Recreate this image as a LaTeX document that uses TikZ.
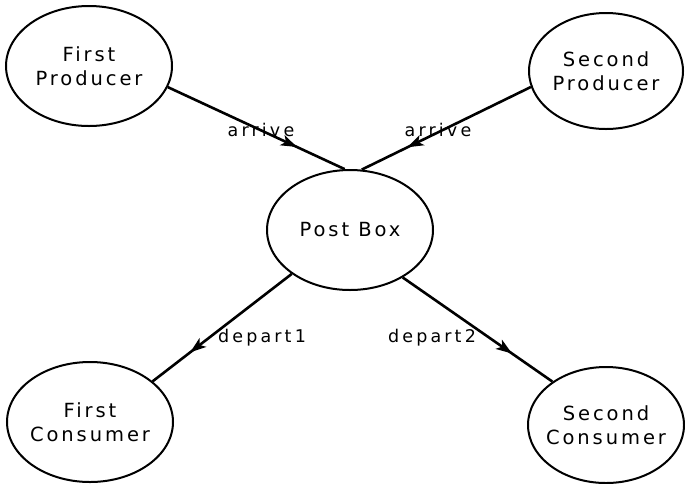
\documentclass[tikz,border=0pt]{standalone}
\usepackage{fontspec}
\setmainfont{DejaVu Sans}[LetterSpace=15]
\newfontfamily\flowfont{DejaVu Sans}[LetterSpace=18]
\usetikzlibrary{shapes.geometric,arrows.meta,decorations.markings}

\tikzset{
  proc/.style={ellipse, draw, line width=2pt, inner xsep=-30pt, inner ysep=-15pt,
    minimum width=166pt, minimum height=120pt, align=center,
    font=\fontsize{19.5}{24}\selectfont},
  flow/.style={line width=2.6pt, postaction={decorate},
    decoration={markings, mark=at position 0.73 with
      {\arrow{Stealth[length=16pt, width=11pt, inset=4pt]}}}},
  lbl/.style={font=\flowfont\fontsize{17.5}{20}\selectfont, inner sep=0pt}
}

\begin{document}
\begin{tikzpicture}[x=1pt, y=-1pt]
  \useasboundingbox (0,0) rectangle (685,483);

  % processes
  \node[proc] (fp) at (89,66) {First\\Producer};
  \node[proc, minimum width=154pt, minimum height=116pt] (sp) at (606,71) {Second\\Producer};
  \node[proc] (pb) at (350,230) {Post Box};
  \node[proc] (fc) at (90,422) {First\\Consumer};
  \node[proc, minimum width=156pt, minimum height=116pt] (sc) at (606,425) {Second\\Consumer};

  % message flows
  \draw[flow] (fp.-15.5) -- (pb.95);
  \draw[flow] (sp.192.6) -- (pb.79);
  \draw[flow] (pb.217) -- (fc.33);
  \draw[flow] (pb.-42) -- (sc.141);

  % flow labels
  \node[lbl] (l1) at (261,130) {arrive};
  \node[lbl] (l2) at (438,130) {arrive};
  \node[lbl] (l3) at (262,338) {depart1};
  \node[lbl] (l4) at (432,338) {depart2};
\end{tikzpicture}
\end{document}
